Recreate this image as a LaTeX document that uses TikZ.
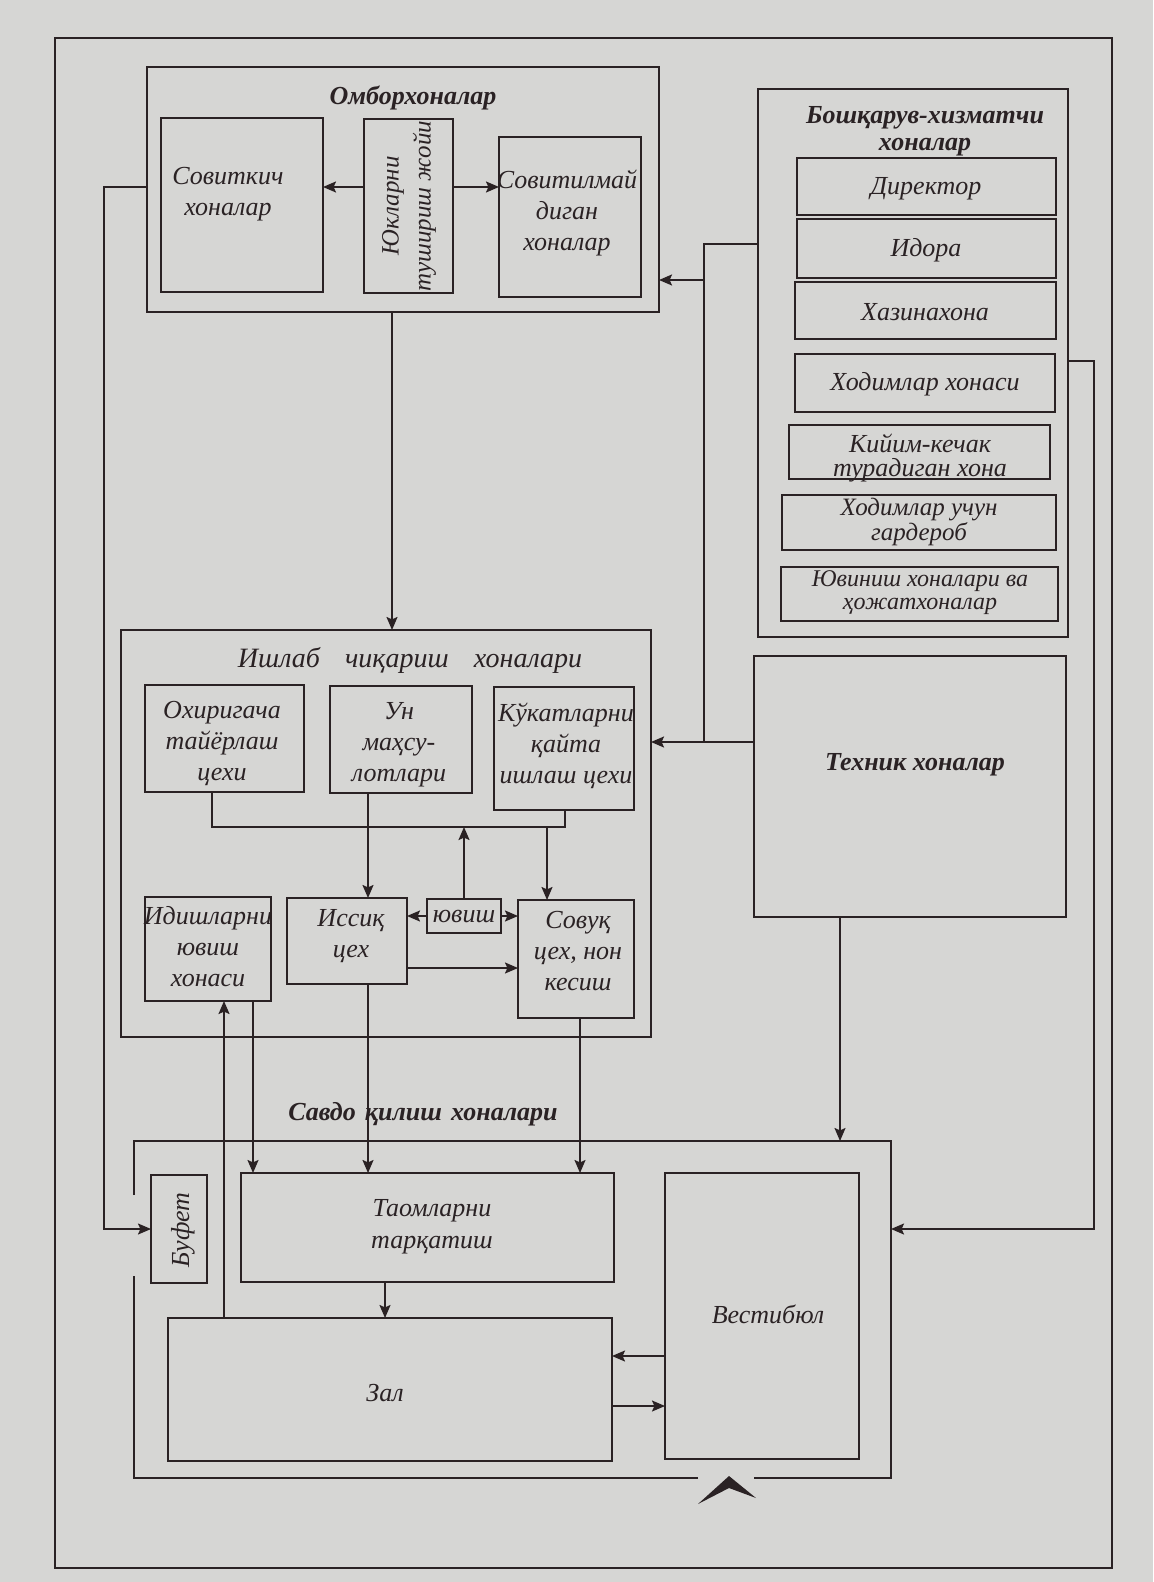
\documentclass[tikz,border=0pt]{standalone}
\usepackage{fontspec}
\setmainfont{Liberation Serif}
\usetikzlibrary{arrows.meta,calc}
\definecolor{ink}{RGB}{42,34,36}
\definecolor{paper}{RGB}{214,214,212}
\begin{document}
\begin{tikzpicture}[x=0.5pt,y=-0.5pt,
  boxline/.style={draw=ink,line width=1.4pt},
  roombox/.style={boxline,rectangle,inner sep=0pt,outer sep=0pt},
  conn/.style={draw=ink,line width=0.9pt},
  arr/.style={conn,-{Stealth[length=6.5pt,width=5.5pt,inset=1.2pt]}},
  framel/.style={draw=ink,line width=0.7pt},
  lbl/.style={font=\fontsize{13}{15.5}\selectfont\itshape,align=center,inner sep=0pt,text=ink},
  ttl/.style={font=\fontsize{13}{14}\selectfont\bfseries\itshape,align=center,inner sep=0pt,text=ink}]
\fill[paper] (0,0) rectangle (1153,1582);
\useasboundingbox (0,0) rectangle (1153,1582);

% outer frame
\draw[framel] (55,38) rectangle (1112,1568);

% helper coordinates
\coordinate (y187) at (0,187);
\coordinate (y244) at (0,244);
\coordinate (y280) at (0,280);
\coordinate (y361) at (0,361);
\coordinate (y742) at (0,742);
\coordinate (y827) at (0,827);
\coordinate (y968) at (0,968);
\coordinate (y1195) at (0,1195);
\coordinate (y1229) at (0,1229);
\coordinate (y1276) at (0,1276);
\coordinate (y1356) at (0,1356);
\coordinate (y1406) at (0,1406);
\coordinate (xL) at (104,0);
\coordinate (xT) at (704,0);
\coordinate (xR) at (1094,0);
\coordinate (x212) at (212,0);
\coordinate (x224) at (224,0);
\coordinate (x253) at (253,0);
\coordinate (x368) at (368,0);
\coordinate (x385) at (385,0);
\coordinate (x392) at (392,0);
\coordinate (x547) at (547,0);
\coordinate (x565) at (565,0);
\coordinate (x580) at (580,0);
\coordinate (x698) at (698,0);
\coordinate (x754) at (754,0);
\coordinate (x840) at (840,0);

% ---- Omborxonalar
\node[roombox,minimum width=256pt,minimum height=122.5pt] (omb) at (403,189.5) {};
\node[ttl] (t-omb) at (413,98) {Омборхоналар};
\node[roombox,minimum width=81pt,minimum height=87pt] (sovit) at (242,205) {};
\node[lbl] (t-sovit) at (228,194) {Совиткич\\хоналар};
\node[roombox,minimum width=44.5pt,minimum height=87pt] (yuk) at (408.5,206) {};
\node[lbl,rotate=90,font=\fontsize{12.5}{16}\selectfont\itshape] (t-yuk) at (409,206) {Юкларни\\тушириш жойи};
\node[roombox,minimum width=71pt,minimum height=80pt] (sovitm) at (570,217) {};
\node[lbl] (t-sovitm) at (567,213) {Совитилмай\\диган\\хоналар};

% ---- Boshqaruv
\node[roombox,minimum width=155pt,minimum height=274pt] (bosh) at (913,363) {};
\node[ttl,font=\fontsize{13}{13.5}\selectfont\bfseries\itshape] (t-bosh) at (925,131) {Бошқарув-хизматчи\\хоналар};
\node[roombox,minimum width=129.5pt,minimum height=28.5pt] (dir) at (926.5,186.5) {};
\node[lbl] (t-dir) at (926,189) {Директор};
\node[roombox,minimum width=129.5pt,minimum height=29.5pt] (idora) at (926.5,248.5) {};
\node[lbl] (t-idora) at (926,250) {Идора};
\node[roombox,minimum width=130.5pt,minimum height=28.5pt] (xaz) at (925.5,310.5) {};
\node[lbl] (t-xaz) at (925,312) {Хазинахона};
\node[roombox,minimum width=130pt,minimum height=29pt] (xodim) at (925,383) {};
\node[lbl] (t-xodim) at (925,384) {Ходимлар хонаси};
\node[roombox,minimum width=130.5pt,minimum height=27pt] (kiyim) at (919.5,452) {};
\node[lbl,font=\fontsize{13}{12}\selectfont\itshape] (t-kiyim) at (920,458) {Кийим-кечак\\турадиган хона};
\node[roombox,minimum width=137pt,minimum height=27.5pt] (gard) at (919,522.5) {};
\node[lbl,font=\fontsize{12.5}{11.5}\selectfont\itshape] (t-gard) at (919,522) {Ходимлар учун\\гардероб};
\node[roombox,minimum width=138.5pt,minimum height=27pt] (yuvin) at (919.5,594) {};
\node[lbl,font=\fontsize{12}{11.5}\selectfont\itshape] (t-yuvin) at (920,593) {Ювиниш хоналари ва\\ҳожатхоналар};

% ---- Texnik
\node[roombox,minimum width=156pt,minimum height=130.5pt] (tech) at (910,786.5) {};
\node[ttl] (t-tech) at (915,765) {Техник хоналар};

% ---- Ishlab chiqarish
\node[roombox,minimum width=265pt,minimum height=203.5pt] (ish) at (386,833.5) {};
\node[lbl,font=\fontsize{14}{16}\selectfont\itshape] (t-ish) at (410,660) {Ишлаб\hspace{0.9em}чиқариш\hspace{0.9em}хоналари};
\node[roombox,minimum width=79.5pt,minimum height=53.5pt] (oxir) at (224.5,738.5) {};
\node[lbl] (t-oxir) at (222,743) {Охиригача\\тайёрлаш\\цехи};
\node[roombox,minimum width=71pt,minimum height=53.5pt] (un) at (401,739.5) {};
\node[lbl] (t-un) at (399,745) {Ун\\маҳсу-\\лотлари};
\node[roombox,minimum width=70pt,minimum height=61.5pt] (kuk) at (564,748.5) {};
\node[lbl] (t-kuk) at (566,746) {Кўкатларни\\қайта\\ишлаш цехи};
\node[roombox,minimum width=63pt,minimum height=52pt] (idish) at (208,949) {};
\node[lbl] (t-idish) at (208,947) {Идишларни\\ювиш\\хонаси};
\node[roombox,minimum width=60pt,minimum height=43pt] (issiq) at (347,941) {};
\node[lbl] (t-issiq) at (351,936) {Иссиқ\\цех};
\node[roombox,minimum width=37pt,minimum height=17pt] (yuvish) at (464,916) {};
\node[lbl] (t-yuvish) at (464,917) {ювиш};
\node[roombox,minimum width=58pt,minimum height=59pt] (sovuq) at (576,959) {};
\node[lbl] (t-sovuq) at (578,951) {Совуқ\\цех, нон\\кесиш};

% ---- Savdo
\node[inner sep=0pt,outer sep=0pt,minimum width=378.5pt,minimum height=168.5pt] (savdo) at (512.5,1309.5) {};
\draw[boxline] (savdo.west |- y1195) -- (savdo.north west) -- (savdo.north east) -- (savdo.south east) -- (savdo.south -| x754);
\draw[boxline] (savdo.south -| x698) -- (savdo.south west) -- (savdo.west |- y1276);
\node[ttl] (t-savdo) at (423,1114) {Савдо\hspace{0.35em}қилиш\hspace{0.35em}хоналари};
\node[roombox,minimum width=28pt,minimum height=54pt] (bufet) at (179,1229) {};
\node[lbl,rotate=90] (t-bufet) at (183,1230) {Буфет};
\node[roombox,minimum width=186.5pt,minimum height=54.5pt] (taom) at (427.5,1227.5) {};
\node[lbl,font=\fontsize{13}{16}\selectfont\itshape] (t-taom) at (432,1227) {Таомларни\\тарқатиш};
\node[roombox,minimum width=222pt,minimum height=71.5pt] (zal) at (390,1389.5) {};
\node[lbl] (t-zal) at (385,1393) {Зал};
\node[roombox,minimum width=97pt,minimum height=143pt] (vest) at (762,1316) {};
\node[lbl] (t-vest) at (768,1314) {Вестибюл};
% entrance mark
\fill[ink] (698,1504) -- (729,1476) -- (756,1498) -- (729,1488) -- cycle;

% ---- connectors
\draw[arr] (yuk.west |- y187) -- (sovit.east |- y187);
\draw[arr] (yuk.east |- y187) -- (sovitm.west |- y187);
\draw[arr] (omb.west |- y187) -| (xL |- bufet.west) -- (bufet.west);
\draw[arr] (omb.south -| x392) -- (ish.north -| x392);
\draw[conn] (bosh.west |- y244) -| (xT |- y742) -- (tech.west |- y742);
\draw[arr] (xT |- y280) -- (omb.east |- y280);
\draw[arr] (xT |- y742) -- (ish.east |- y742);
\draw[arr] (bosh.east |- y361) -| (xR |- y1229) -- (savdo.east |- y1229);
\draw[arr] (tech.south -| x840) -- (savdo.north -| x840);

\draw[conn] (oxir.south -| x212) |- (y827 -| x565) -- (kuk.south -| x565);
\draw[arr] (un.south -| x368) -- (issiq.north -| x368);
\draw[arr] (yuvish.north) -- (yuvish.north |- y827);
\draw[arr] (y827 -| x547) -- (sovuq.north -| x547);
\draw[arr] (yuvish.west) -- (issiq.east |- yuvish.west);
\draw[arr] (yuvish.east) -- (sovuq.west |- yuvish.east);
\draw[arr] (issiq.east |- y968) -- (sovuq.west |- y968);

\draw[arr] (zal.north -| x224) -- (idish.south -| x224);
\draw[arr] (idish.south -| x253) -- (taom.north -| x253);
\draw[arr] (issiq.south -| x368) -- (taom.north -| x368);
\draw[arr] (sovuq.south -| x580) -- (taom.north -| x580);
\draw[arr] (taom.south -| x385) -- (zal.north -| x385);
\draw[arr] (vest.west |- y1356) -- (zal.east |- y1356);
\draw[arr] (zal.east |- y1406) -- (vest.west |- y1406);
\end{tikzpicture}
\end{document}
